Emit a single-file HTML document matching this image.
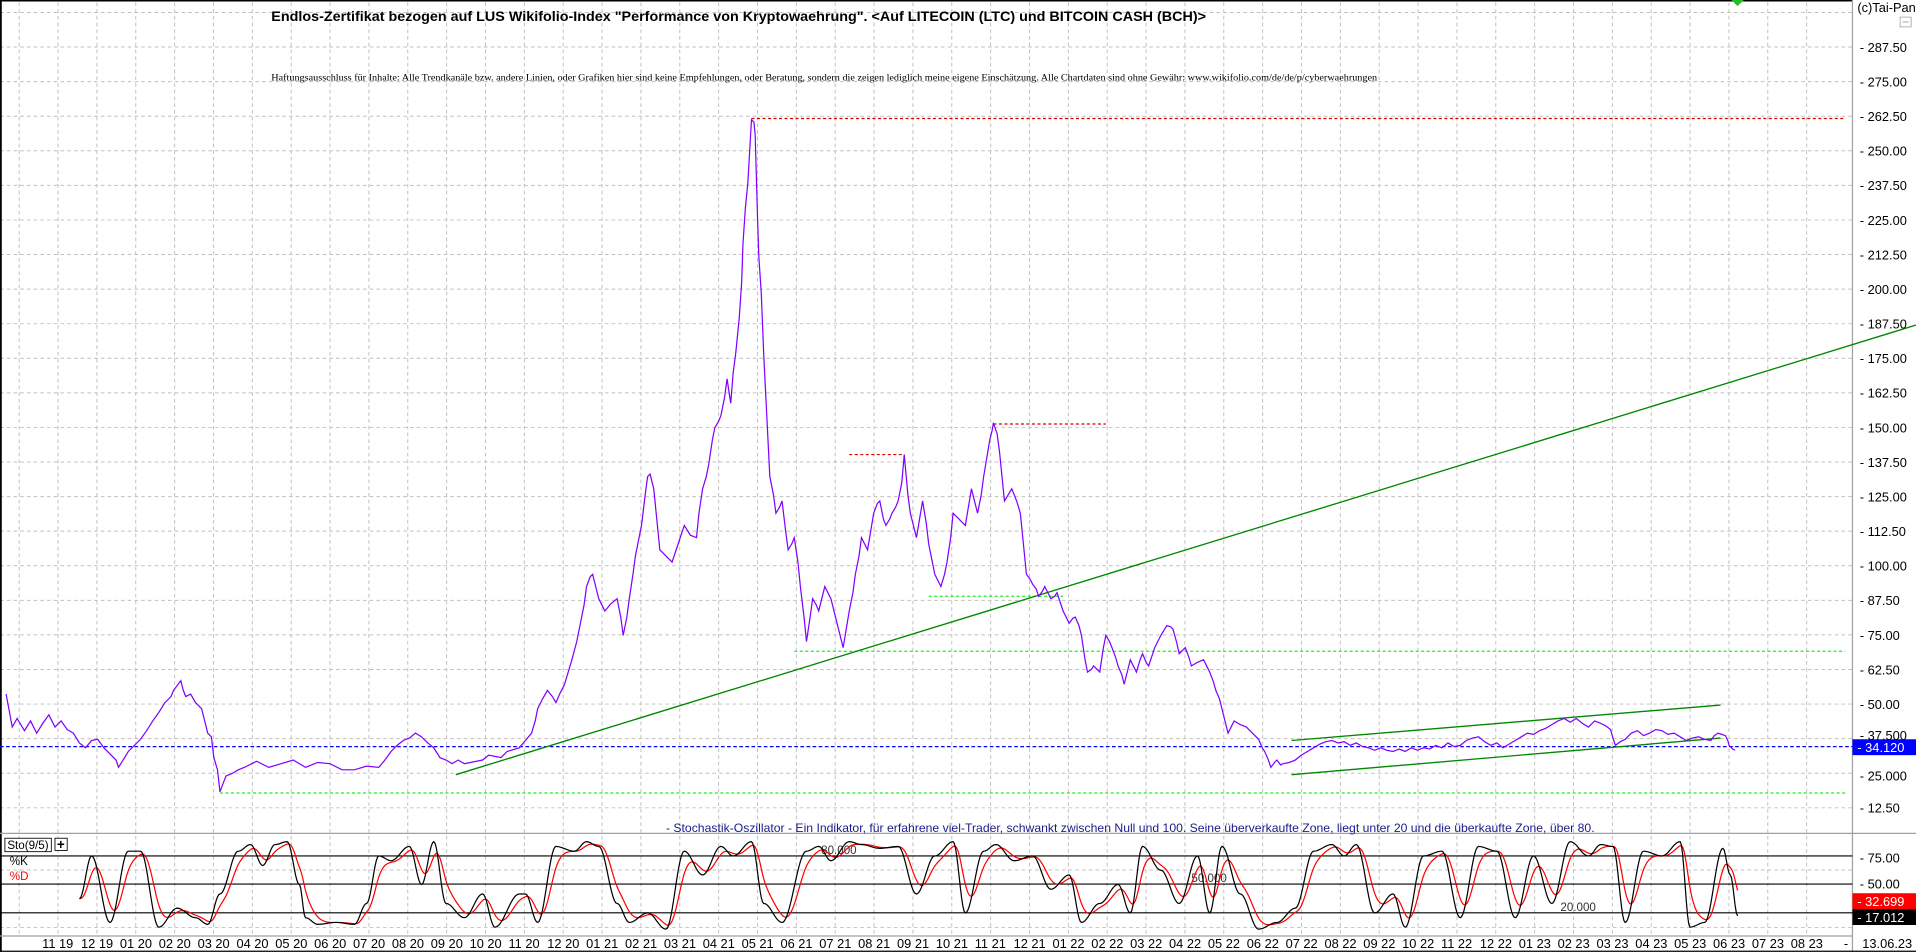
<!DOCTYPE html>
<html><head><meta charset="utf-8"><style>
html,body{margin:0;padding:0;background:#fff;overflow:hidden}
svg{display:block}
text{font-family:"Liberation Sans",sans-serif}
</style></head><body>
<svg id="s" width="1916" height="952" viewBox="0 0 1568 779.1" preserveAspectRatio="none" xmlns="http://www.w3.org/2000/svg">
<rect x="0" y="0" width="1568" height="780" fill="#fff"/>
<g id="grid" stroke="#c0c0c0" stroke-width="0.8" stroke-dasharray="3,2.5" fill="none"></g>
<!-- borders -->
<line x1="0" y1="0.5" x2="1516" y2="0.5" stroke="#000" stroke-width="1.5"/>
<line x1="0.7" y1="0" x2="0.7" y2="779" stroke="#000" stroke-width="1.5"/>
<line x1="1516" y1="0" x2="1516" y2="779" stroke="#a0a0a0" stroke-width="1"/>
<line x1="0" y1="682" x2="1568" y2="682" stroke="#a0a0a0" stroke-width="1"/>
<line x1="0" y1="766" x2="1516" y2="766" stroke="#a0a0a0" stroke-width="1"/>
<line x1="0" y1="778.5" x2="1568" y2="778.5" stroke="#000" stroke-width="1"/>
<polygon points="1417,0 1427,0 1422,5" fill="#2cb82c"/>
<!-- title -->
<text x="222" y="17" font-size="11.5" font-weight="bold" textLength="765" lengthAdjust="spacingAndGlyphs">Endlos-Zertifikat bezogen auf LUS Wikifolio-Index "Performance von Kryptowaehrung". &lt;Auf LITECOIN (LTC) und BITCOIN CASH (BCH)&gt;</text>
<text x="222" y="66" font-size="8" style="font-family:'Liberation Serif',serif" textLength="905" lengthAdjust="spacingAndGlyphs">Haftungsausschluss für Inhalte: Alle Trendkanäle bzw. andere Linien, oder Grafiken hier sind keine Empfehlungen, oder Beratung, sondern die zeigen lediglich meine eigene Einschätzung. Alle Chartdaten sind ohne Gewähr: www.wikifolio.com/de/de/p/cyberwaehrungen</text>
<!-- horizontal level lines -->
<line x1="615" y1="97" x2="1510" y2="97" stroke="#d00" stroke-width="1" stroke-dasharray="2.5,2"/>
<line x1="695" y1="372" x2="740" y2="372" stroke="#e00" stroke-width="1" stroke-dasharray="2.5,2"/>
<line x1="813" y1="347" x2="905" y2="347" stroke="#d00" stroke-width="1" stroke-dasharray="2.5,2"/>
<line x1="760" y1="488" x2="870" y2="488" stroke="#2e2" stroke-width="1" stroke-dasharray="2.5,2"/>
<line x1="650" y1="533" x2="1510" y2="533" stroke="#2e2" stroke-width="1" stroke-dasharray="2.5,2"/>
<line x1="180" y1="649" x2="1510" y2="649" stroke="#2e2" stroke-width="1" stroke-dasharray="2.5,2"/>
<line x1="0" y1="611" x2="1516" y2="611" stroke="#00f" stroke-width="1" stroke-dasharray="3,2"/>
<!-- trend lines -->
<line x1="373" y1="634" x2="1568" y2="266" stroke="#080" stroke-width="1.1"/>
<line x1="1057" y1="606" x2="1408" y2="577" stroke="#080" stroke-width="1.1"/>
<line x1="1057" y1="634" x2="1408" y2="604" stroke="#080" stroke-width="1.1"/>
<!-- price -->
<polyline fill="none" stroke="#8000ff" stroke-width="1" points="5,568 10,595 14,588 20,598 25,590 30,600 35,592 40,585 45,595 50,590 55,597 60,600 65,608 70,612 75,606 80,605 85,612 90,617 95,622 97,628 102,620 105,615 110,610 115,605 120,598 125,590 130,583 135,575 140,570 142,565 148,557 150,565 152,570 156,568 160,575 165,580 168,592 170,600 173,603 175,620 178,630 180,648 183,640 185,635 190,633 195,630 200,628 210,623 220,628 230,625 240,622 250,628 260,624 270,625 280,630 290,630 300,627 310,628 315,622 320,615 325,610 330,606 335,604 340,600 345,603 350,608 355,612 360,620 365,622 370,625 375,622 380,625 385,624 395,622 400,618 410,620 415,615 425,612 430,606 435,600 438,590 440,580 444,572 448,565 452,570 455,575 458,568 462,560 465,550 468,540 472,525 475,510 478,495 480,480 483,472 485,470 488,482 490,490 493,496 495,500 500,494 505,490 508,505 510,520 513,505 515,490 518,470 520,455 523,440 525,430 528,405 530,390 532,388 535,400 538,430 540,450 545,455 550,460 555,445 560,430 565,438 570,440 572,420 575,400 578,390 580,380 583,360 585,350 588,345 590,340 593,325 595,310 598,330 600,305 602,290 604,270 605,260 607,230 608,200 610,170 612,150 614,115 615,98 617,100 618,110 620,180 621,210 623,240 625,290 627,330 629,370 630,390 633,405 635,420 638,415 640,410 643,435 645,450 648,445 650,440 653,460 655,480 658,505 660,525 663,505 665,490 668,495 670,500 673,488 675,480 678,486 680,490 685,510 690,530 693,512 695,500 698,485 700,470 703,455 705,440 708,446 710,450 713,432 715,420 718,412 720,410 723,425 725,430 728,425 730,420 733,415 735,410 738,395 740,372 743,405 745,420 748,432 750,440 753,422 755,410 758,428 760,445 763,460 765,470 768,476 770,480 773,470 775,460 778,440 780,420 785,425 790,430 793,412 795,400 798,412 800,420 803,405 805,390 808,372 810,360 812,352 813,346 816,355 818,370 820,390 822,410 825,405 828,400 832,410 835,420 838,450 840,470 843,474 845,478 848,482 850,488 853,484 855,480 858,486 860,490 863,488 865,485 868,494 870,500 873,506 875,510 878,506 880,505 883,512 885,520 888,540 890,550 893,548 895,545 898,548 900,550 903,530 905,520 908,525 910,530 913,538 915,545 918,552 920,560 923,548 925,540 928,546 930,550 933,540 935,535 938,542 940,545 943,536 945,530 948,524 950,520 953,515 955,512 958,513 960,515 963,526 965,535 968,532 970,530 973,538 975,545 980,542 985,540 988,546 990,550 993,558 995,565 998,572 1000,580 1003,592 1005,600 1008,594 1010,590 1015,593 1020,595 1025,600 1030,605 1033,612 1035,615 1038,622 1040,628 1043,624 1045,622 1048,626 1050,625 1055,624 1060,622 1065,618 1070,615 1075,612 1080,609 1085,607 1090,606 1095,608 1100,607 1105,610 1110,608 1115,611 1120,612 1125,614 1130,612 1135,614 1140,615 1145,613 1150,615 1155,612 1160,614 1165,612 1170,613 1175,610 1180,612 1185,608 1190,611 1195,610 1200,606 1205,604 1210,603 1215,607 1220,610 1225,608 1230,612 1235,609 1240,606 1245,603 1250,600 1255,601 1260,598 1265,596 1270,593 1275,590 1280,588 1285,591 1290,588 1295,592 1300,595 1305,590 1310,592 1314,594 1318,597 1320,604 1322,610 1326,607 1330,605 1335,600 1340,598 1345,602 1350,600 1355,597 1360,598 1365,601 1370,600 1375,603 1380,606 1385,604 1390,603 1395,605 1400,606 1403,602 1406,600 1409,601 1412,602 1414,606 1415,610 1418,613 1420,614"/>
<!-- right axis labels -->
<g id="axl" font-size="10.5" fill="#000"></g>
<text x="1520" y="10" font-size="10.5">(c)Tai-Pan</text>
<rect x="1555" y="14" width="9" height="8" fill="none" stroke="#999" stroke-width="0.6"/>
<line x1="1557" y1="18" x2="1562" y2="18" stroke="#999" stroke-width="0.7"/>
<rect x="1516" y="605" width="52" height="13" fill="#00f"/>
<text x="1520" y="615.5" font-size="10.5" fill="#fff">- 34.120</text>
<!-- stochastic -->
<text x="545" y="681" font-size="9.5" fill="#1a1a8a" textLength="760" lengthAdjust="spacingAndGlyphs">- Stochastik-Oszillator - Ein Indikator, für erfahrene viel-Trader, schwankt zwischen Null und 100. Seine überverkaufte Zone, liegt unter 20 und die überkaufte Zone, über 80.</text>
<line x1="0" y1="700.5" x2="1516" y2="700.5" stroke="#000" stroke-width="0.9"/>
<line x1="0" y1="723.5" x2="1516" y2="723.5" stroke="#000" stroke-width="0.9"/>
<line x1="0" y1="747" x2="1516" y2="747" stroke="#000" stroke-width="0.9"/>
<text x="672" y="699" font-size="9.5" fill="#333">80.000</text>
<text x="975" y="722" font-size="9.5" fill="#333">50.000</text>
<text x="1277" y="745.5" font-size="9.5" fill="#333">20.000</text>
<path id="dpath" fill="none" stroke="#f00" stroke-width="1"/>
<path id="kpath" fill="none" stroke="#000" stroke-width="1"/>
<rect x="4" y="686" width="38" height="11" fill="#fff" stroke="#000" stroke-width="0.7"/>
<text x="6" y="695" font-size="9.5">Sto(9/5)</text>
<rect x="45" y="686" width="10" height="10" fill="#fff" stroke="#000" stroke-width="0.7"/>
<text x="46.5" y="695" font-size="11" font-weight="bold">+</text>
<text x="8" y="708" font-size="9.5">%K</text>
<text x="8" y="720" font-size="9.5" fill="#f00">%D</text>
<text x="1522" y="706" font-size="10.5">- 75.00</text>
<text x="1522" y="727" font-size="10.5">- 50.00</text>
<rect x="1516" y="731" width="52" height="13" fill="#f00"/>
<text x="1520" y="741.5" font-size="10.5" fill="#fff">- 32.699</text>
<rect x="1516" y="744" width="52" height="13" fill="#000"/>
<text x="1520" y="754.5" font-size="10.5" fill="#fff">- 17.012</text>
<g id="dates" font-size="10.5" fill="#000"></g>
<text x="1509" y="776" font-size="10.5">-</text>
<text x="1524" y="776" font-size="10.5">13.06.23</text>
</svg>
<script>
var NS="http://www.w3.org/2000/svg";
function el(t,a,txt,p){var e=document.createElementNS(NS,t);for(var k in a)e.setAttribute(k,a[k]);if(txt)e.textContent=txt;document.getElementById(p).appendChild(e);}
function py(p){return 38.5+(287.5-p)*2.264;}
// horizontal grid
for(var p=300;p>=0;p-=12.5){var y=py(p);if(y>0&&y<680)el("line",{x1:0,y1:y,x2:1516,y2:y},"","grid");
 if(p<=287.5&&p>=12.5&&Math.abs(p-37.5)>1&&Math.abs(p-25)>1)el("text",{x:1522,y:y+4},"- "+p.toFixed(2),"axl");}
el("text",{x:1522,y:py(37.5)+1},"- 37.500","axl");
el("text",{x:1522,y:py(25)+6},"- 25.000","axl");
el("line",{x1:0,y1:712,x2:1516,y2:712},"","grid");
el("line",{x1:0,y1:759,x2:1516,y2:759},"","grid");
// vertical grid & dates
for(var i=-1;i<46;i++){var x=47.5+i*31.8;if(x<2)continue;
 el("line",{x1:x,y1:2,x2:x,y2:766},"","grid");
 var m=(10+i)%12+1,yr=19+Math.floor((10+i)/12);
 if(i>=0)el("text",{x:x-13,y:776},(m<10?"0":"")+m+" "+yr,"dates");}
// stochastic
var ex=[[65,35],[75,80],[90,10],[105,85],[115,85],[130,5],[145,25],[160,15],[170,8],[180,40],[195,85],[205,92],[215,70],[225,92],[235,95],[245,50],[250,15],[260,8],[275,10],[290,8],[300,30],[310,80],[320,75],[335,90],[345,50],[355,95],[365,30],[380,15],[395,40],[405,5],[425,40],[430,40],[440,10],[455,90],[470,85],[480,95],[490,90],[505,30],[515,10],[530,20],[545,3],[560,85],[575,60],[590,90],[600,80],[615,95],[625,30],[640,10],[660,85],[670,90],[680,75],[695,95],[705,92],[720,88],[735,90],[750,40],[765,80],[780,95],[790,20],[805,85],[815,92],[830,75],[845,80],[860,45],[875,60],[885,10],[900,30],[915,50],[925,20],[935,90],[950,65],[965,30],[980,80],[990,20],[1000,90],[1015,40],[1030,3],[1045,10],[1060,25],[1075,85],[1090,92],[1100,80],[1110,92],[1125,20],[1140,40],[1150,5],[1165,80],[1180,85],[1195,15],[1210,90],[1225,85],[1240,15],[1255,80],[1270,30],[1285,95],[1300,80],[1310,92],[1320,90],[1330,10],[1345,85],[1360,80],[1375,95],[1383,5],[1395,10],[1410,88],[1416,60],[1422,17]];
function sy(v){return 932/1.222+ (0-v)*0.95/1.222;}
var K=[],X=[];
for(var j=0;j<ex.length-1;j++){var a=ex[j],b=ex[j+1];for(var x=a[0];x<b[0];x++){var t=(x-a[0])/(b[0]-a[0]);t=(1-Math.cos(Math.PI*t))/2;X.push(x);K.push(a[1]+(b[1]-a[1])*t);}}
X.push(1422);K.push(17);
var kd="",dd="",D=K[0];
for(var j=0;j<K.length;j++){D+= (K[j]-D)*0.16;kd+=(j?"L":"M")+X[j]+","+sy(K[j]).toFixed(1);dd+=(j?"L":"M")+X[j]+","+sy(D).toFixed(1);}
document.getElementById("kpath").setAttribute("d",kd);
document.getElementById("dpath").setAttribute("d",dd);
</script>
</body></html>
